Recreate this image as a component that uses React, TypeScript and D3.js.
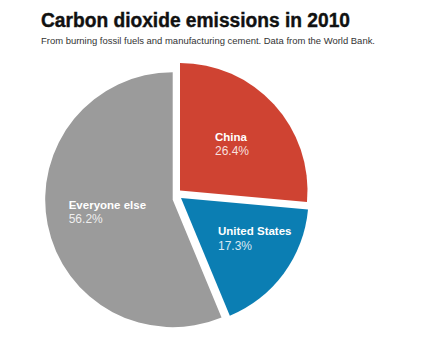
import React from "react";
import * as d3 from "d3";

const categories = ["China", "United States", "Everyone else"];
const shares = [26.4, 17.3, 56.2];
const valueLabels = ["26.4%", "17.3%", "56.2%"];

const COLORS = ["#cf4332", "#0b7eb3", "#9b9b9b"];
// per-slice explode translation (px) relative to the pie centre
const EXPLODE: [number, number][] = [
  [7.3, -9.2],
  [8.3, -1.7],
  [0, 0],
];
// label anchor offsets relative to each slice's own centre
const LABEL_POS: [number, number][] = [
  [35, -50],
  [37, 37],
  [-104, 9],
];

const W = 437;
const H = 346;
const CX = 172.7;
const CY = 199.7;
const R = 127.5;

export default function App() {
  const pie = d3
    .pie<number>()
    .sort(null)
    .value((d) => d)
    .startAngle(0)
    .endAngle(2 * Math.PI);
  const arcs = pie(shares);
  const arcGen = d3.arc<d3.PieArcDatum<number>>().innerRadius(0).outerRadius(R);

  return (
    <svg
      width={W}
      height={H}
      style={{ position: "absolute", left: 0, top: 0, background: "#fff" }}
      fontFamily="'Liberation Sans', Arial, sans-serif"
    >
      <text
        x={41}
        y={27}
        fontSize={20}
        fontWeight="bold"
        fill="#111"
        textLength={309}
        lengthAdjust="spacingAndGlyphs"
        stroke="#111"
        strokeWidth={0.4}
      >
        Carbon dioxide emissions in 2010
      </text>
      <text
        x={41}
        y={44}
        fontSize={9.5}
        fill="#333"
        textLength={334}
        lengthAdjust="spacingAndGlyphs"
      >
        From burning fossil fuels and manufacturing cement. Data from the World Bank.
      </text>
      {arcs.map((a, i) => {
        const [dx, dy] = EXPLODE[i];
        const [lx, ly] = LABEL_POS[i];
        return (
          <g key={categories[i]} transform={`translate(${CX + dx},${CY + dy})`}>
            <path d={arcGen(a) || ""} fill={COLORS[i]} />
            <text x={lx} y={ly} fontSize={11.5} fontWeight="bold" fill="#fff">
              {categories[i]}
            </text>
            <text x={lx} y={ly + 14.5} fontSize={12} fill="#fff" fillOpacity={0.85}>
              {valueLabels[i]}
            </text>
          </g>
        );
      })}
    </svg>
  );
}
